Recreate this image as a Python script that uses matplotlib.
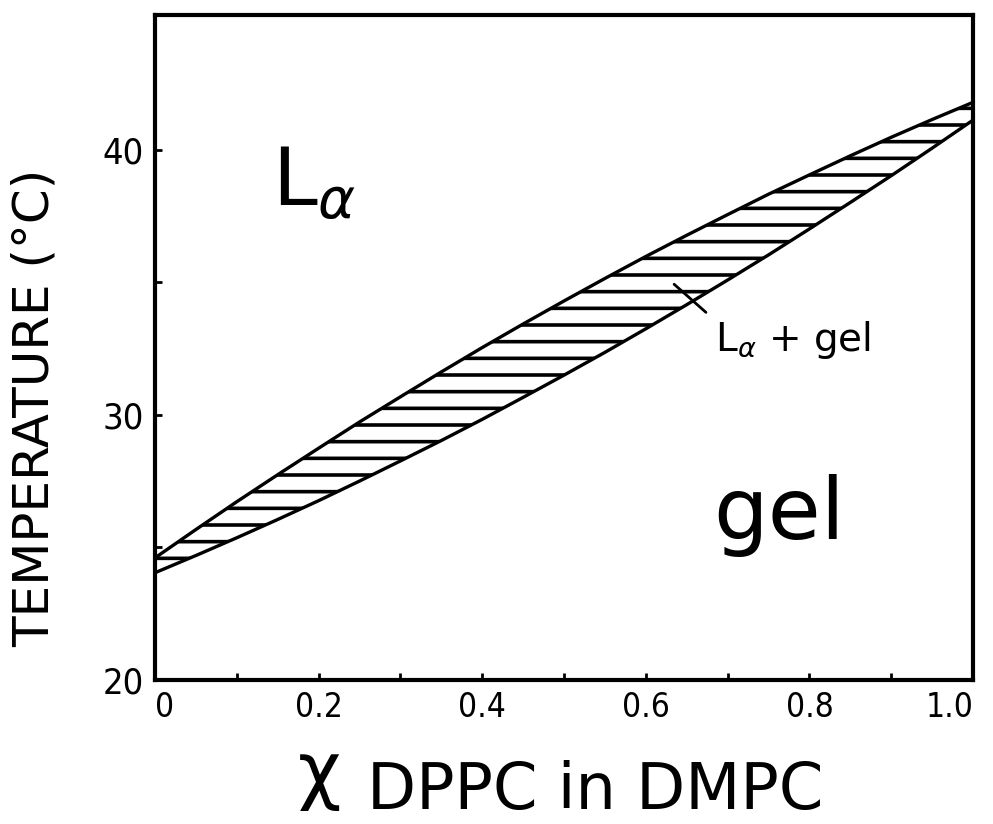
import matplotlib
matplotlib.use("Agg")
import matplotlib.pyplot as plt
import numpy as np

# composition (mole fraction DPPC) and boundary temperatures
x_comp = [0, 0.05, 0.1, 0.15, 0.2, 0.25, 0.3, 0.35, 0.4, 0.45, 0.5,
          0.55, 0.6, 0.65, 0.7, 0.75, 0.8, 0.85, 0.9, 0.95, 1.0]
t_liquidus = [24.6, 25.67, 26.72, 27.74, 28.74, 29.73, 30.68, 31.62, 32.54, 33.43, 34.3,
              35.15, 35.98, 36.78, 37.56, 38.33, 39.06, 39.78, 40.48, 41.15, 41.8]
t_solidus = [24.04, 24.69, 25.36, 26.05, 26.76, 27.5, 28.26, 29.03, 29.83, 30.66, 31.5,
             32.36, 33.25, 34.16, 35.09, 36.04, 37.02, 38.02, 39.03, 40.07, 41.13]

xticks_major = [0, 0.2, 0.4, 0.6, 0.8, 1.0]
xtick_labels = ["0", "0.2", "0.4", "0.6", "0.8", "1.0"]
yticks_major = [20, 30, 40]

plt.rcParams['hatch.linewidth'] = 2.6
plt.rcParams['font.family'] = ['DejaVu Sans']

fig = plt.figure(figsize=(9.93, 8.24), dpi=100)
ax = fig.add_axes([0.156, 0.175, 0.824, 0.807])

# hatched two-phase band
band_x = np.concatenate([x_comp, x_comp[::-1]])
band_t = np.concatenate([t_liquidus, t_solidus[::-1]])
ax.fill(band_x, band_t, facecolor='none', edgecolor='black', hatch='-', linewidth=0)
ax.plot(x_comp, t_liquidus, color='black', lw=2.4)
ax.plot(x_comp, t_solidus, color='black', lw=2.4)

ax.set_xlim(0, 1.0)
ax.set_ylim(20, 45.1)

ax.set_xticks(xticks_major)
ax.set_xticklabels(xtick_labels)
ax.set_xticks(np.arange(0.1, 1.0, 0.2), minor=True)
ax.set_yticks(yticks_major)
ax.set_yticks([25, 35], minor=True)
ax.tick_params(which='both', direction='in', length=5, width=2, labelsize=24, pad=8)
ax.tick_params(axis='y', labelsize=26)
for lab in ax.get_xticklabels() + ax.get_yticklabels():
    lab.set_fontstretch('condensed')
xl = ax.get_xticklabels()
xl[0].set_ha('left')
xl[-1].set_ha('right')
for s in ax.spines.values():
    s.set_linewidth(3)

# region labels
ax.text(0.143, 37.9, r'L$_\alpha$', fontsize=58, ha='left', va='baseline')
ax.text(0.682, 25.3, 'gel', fontsize=62, ha='left', va='baseline')
ax.text(0.685, 32.4, r'L$_\alpha$ + gel', fontsize=28, ha='left', va='baseline')
ax.annotate('', xy=(0.632, 35.0), xytext=(0.676, 33.8),
            arrowprops=dict(arrowstyle='-', lw=2, color='black'))

ax.set_ylabel('TEMPERATURE (°C)', fontsize=36, va='center')
ax.yaxis.set_label_coords(-0.147, 0.409)

# x axis label: chi with large subscript
fig.text(0.300, 0.035, 'χ', fontsize=54, ha='left', va='baseline')
fig.text(0.37, 0.018, 'DPPC in DMPC', fontsize=46, ha='left', va='baseline')

fig.savefig('out.png', dpi=100)
